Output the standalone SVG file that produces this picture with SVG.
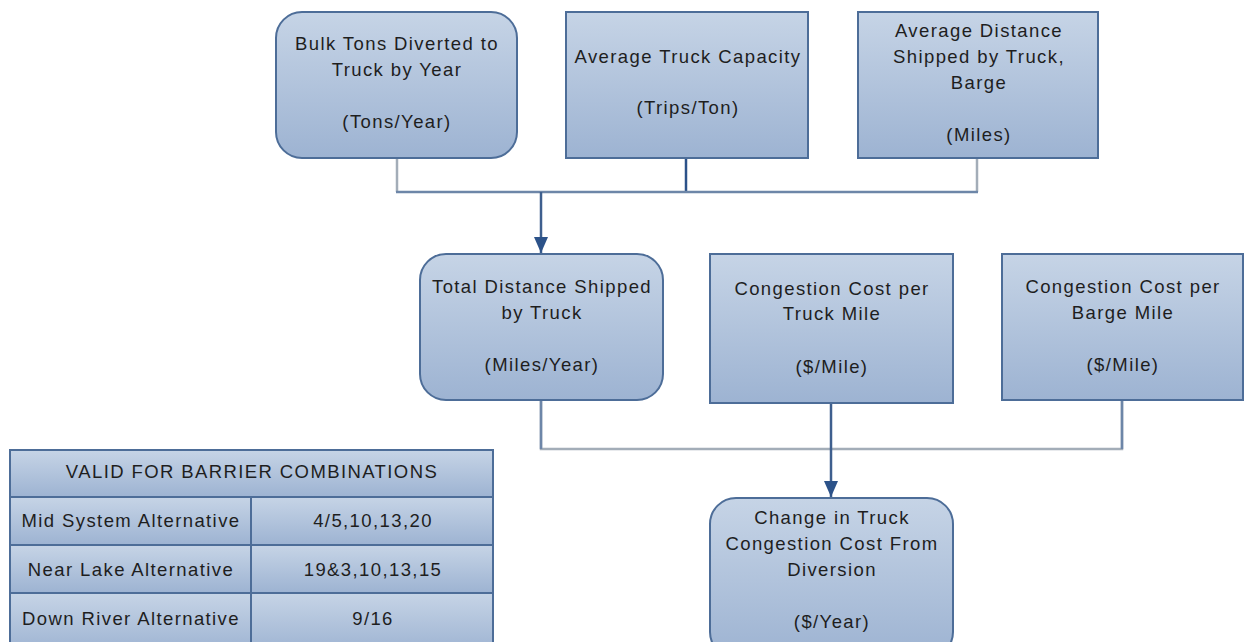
<svg xmlns="http://www.w3.org/2000/svg" width="1244" height="642" viewBox="0 0 1244 642">
<defs>
<linearGradient id="g" x1="0" y1="0" x2="0" y2="1">
<stop offset="0" stop-color="#c6d4e6"/>
<stop offset="1" stop-color="#9db3d2"/>
</linearGradient>
<marker id="arr" markerWidth="16" markerHeight="14" refX="16" refY="7" orient="auto" markerUnits="userSpaceOnUse" viewBox="0 0 16 14">
<path d="M0,0 L16,7 L0,14 Z" fill="#2c5289"/>
</marker>
<style>
.n{fill:url(#g);stroke:#4d6d98;stroke-width:2}
.t{font-family:"Liberation Sans",Arial,sans-serif;font-size:18.5px;letter-spacing:1.4px;fill:#1e1e1e;text-anchor:middle}
.c{fill:none;stroke-width:2.5}
</style>
</defs>
<rect width="1244" height="642" fill="#fff"/>
<g id="connectors">
<path class="c" d="M397,158 V192" stroke="#a3adb8"/>
<path class="c" d="M977,158 V192" stroke="#a3adb8"/>
<path class="c" d="M686,158 V192" stroke="#2c5289"/>
<path class="c" d="M396,192 H978" stroke="#6d86a8"/>
<path class="c" d="M541,192 V253" stroke="#3e5f8e" stroke-width="1.5" marker-end="url(#arr)"/>
<path class="c" d="M541,400 V449 H1122 V400" stroke="#a3adb8"/>
<path class="c" d="M1122,400 V449" stroke="#6d86a8"/>
<path class="c" d="M541,400 V449" stroke="#6d86a8"/>
<path class="c" d="M831,403 V497" stroke="#3e5f8e" stroke-width="1.5" marker-end="url(#arr)"/>
</g>
<g id="node-bulk">
<rect class="n" x="276" y="12" width="241" height="146" rx="26"/>
<text class="t" x="397" y="50">Bulk Tons Diverted to</text>
<text class="t" x="397" y="76">Truck by Year</text>
<text class="t" x="397" y="128">(Tons/Year)</text>
</g>
<g id="node-capacity">
<rect class="n" x="566" y="12" width="242" height="146"/>
<text class="t" x="688" y="63">Average Truck Capacity</text>
<text class="t" x="688" y="114">(Trips/Ton)</text>
</g>
<g id="node-distance">
<rect class="n" x="858" y="12" width="240" height="146"/>
<text class="t" x="979" y="37">Average Distance</text>
<text class="t" x="979" y="63">Shipped by Truck,</text>
<text class="t" x="979" y="89">Barge</text>
<text class="t" x="979" y="141">(Miles)</text>
</g>
<g id="node-total">
<rect class="n" x="420" y="254" width="243" height="146" rx="26"/>
<text class="t" x="542" y="293">Total Distance Shipped</text>
<text class="t" x="542" y="319">by Truck</text>
<text class="t" x="542" y="371">(Miles/Year)</text>
</g>
<g id="node-truckcost">
<rect class="n" x="710" y="254" width="243" height="149"/>
<text class="t" x="832" y="295">Congestion Cost per</text>
<text class="t" x="832" y="320">Truck Mile</text>
<text class="t" x="832" y="373">($/Mile)</text>
</g>
<g id="node-bargecost">
<rect class="n" x="1002" y="254" width="241" height="146"/>
<text class="t" x="1123" y="293">Congestion Cost per</text>
<text class="t" x="1123" y="319">Barge Mile</text>
<text class="t" x="1123" y="371">($/Mile)</text>
</g>
<g id="node-change">
<rect class="n" x="710" y="498" width="243" height="160" rx="26"/>
<text class="t" x="832" y="524">Change in Truck</text>
<text class="t" x="832" y="550">Congestion Cost From</text>
<text class="t" x="832" y="576">Diversion</text>
<text class="t" x="832" y="628">($/Year)</text>
</g>
<g id="table">
<rect class="n" x="10" y="450" width="483" height="47"/>
<rect class="n" x="10" y="497" width="241" height="48"/>
<rect class="n" x="251" y="497" width="242" height="48"/>
<rect class="n" x="10" y="545" width="241" height="48"/>
<rect class="n" x="251" y="545" width="242" height="48"/>
<rect class="n" x="10" y="593" width="241" height="60"/>
<rect class="n" x="251" y="593" width="242" height="60"/>
<text class="t" x="252" y="478">VALID FOR BARRIER COMBINATIONS</text>
<text class="t" x="131" y="527">Mid System Alternative</text>
<text class="t" x="373" y="527">4/5,10,13,20</text>
<text class="t" x="131" y="576">Near Lake Alternative</text>
<text class="t" x="373" y="576">19&amp;3,10,13,15</text>
<text class="t" x="131" y="625">Down River Alternative</text>
<text class="t" x="373" y="625">9/16</text>
</g>
</svg>
